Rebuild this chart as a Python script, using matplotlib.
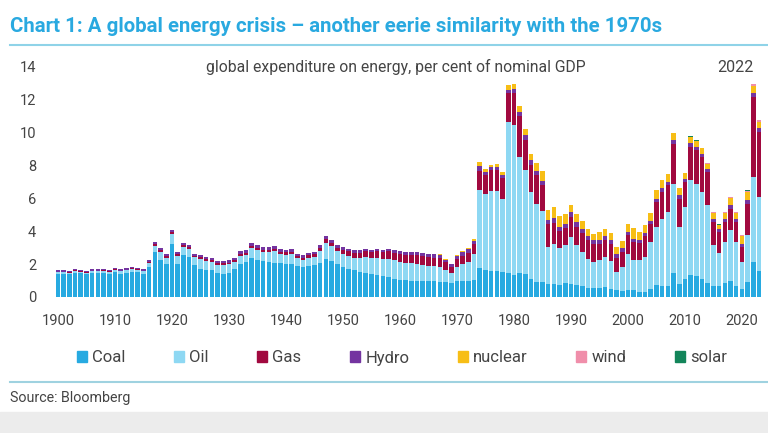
import numpy as np
import matplotlib.pyplot as plt
from matplotlib.patches import Patch, Rectangle
from matplotlib.lines import Line2D

plt.rcParams['font.family'] = ['Roboto', 'DejaVu Sans']

# years 1900..2023, values in per cent of nominal GDP
years = list(range(1900, 2024))

coal = [1.42, 1.42, 1.40, 1.48, 1.44, 1.40, 1.46, 1.46, 1.47, 1.42,
        1.50, 1.43, 1.47, 1.52, 1.50, 1.40, 1.83, 2.74, 2.27, 1.99,
        3.25, 2.03, 2.54, 2.44, 1.93, 1.73, 1.67, 1.62, 1.46, 1.42,
        1.46, 1.70, 2.03, 2.13, 2.39, 2.27, 2.19, 2.13, 2.10, 2.05,
        2.03, 2.03, 1.90, 1.85, 1.90, 1.95, 2.10, 2.30, 2.20, 2.00,
        1.85, 1.73, 1.62, 1.52, 1.47, 1.42, 1.32, 1.25, 1.20, 1.12,
        1.05, 1.02, 1.00, 0.98, 0.97, 0.95, 0.95, 0.93, 0.90, 0.88,
        0.95, 0.98, 1.00, 1.05, 1.78, 1.67, 1.60, 1.58, 1.55, 1.45,
        1.32, 1.48, 1.42, 1.12, 0.92, 0.92, 0.81, 0.81, 0.75, 0.87,
        0.81, 0.75, 0.67, 0.57, 0.57, 0.55, 0.60, 0.50, 0.40, 0.34,
        0.40, 0.40, 0.30, 0.32, 0.51, 0.75, 0.67, 0.67, 1.48, 0.81,
        1.08, 1.32, 1.26, 1.08, 0.87, 0.67, 0.67, 0.87, 0.95, 0.67,
        0.51, 0.91, 2.13, 1.56]

oil = [0.08, 0.08, 0.08, 0.11, 0.10, 0.08, 0.10, 0.10, 0.12, 0.12,
       0.14, 0.13, 0.15, 0.17, 0.17, 0.16, 0.23, 0.36, 0.47, 0.41,
       0.60, 0.48, 0.50, 0.51, 0.48, 0.58, 0.54, 0.53, 0.50, 0.54,
       0.53, 0.44, 0.48, 0.44, 0.61, 0.59, 0.56, 0.62, 0.68, 0.55,
       0.55, 0.57, 0.45, 0.40, 0.50, 0.49, 0.70, 1.01, 0.88, 0.77,
       0.79, 0.78, 0.77, 0.85, 0.97, 0.94, 1.06, 1.05, 1.13, 1.13,
       1.10, 1.06, 1.05, 1.05, 1.00, 0.96, 0.92, 0.92, 0.76, 0.60,
       0.87, 1.02, 1.14, 1.56, 4.72, 4.62, 4.84, 4.86, 4.43, 9.20,
       9.13, 7.05, 6.34, 5.28, 4.77, 4.30, 2.23, 2.43, 2.23, 2.32,
       2.84, 2.39, 2.07, 1.77, 1.56, 1.68, 1.84, 1.67, 1.12, 1.49,
       2.24, 1.83, 1.93, 2.12, 2.84, 3.51, 4.10, 4.51, 5.42, 3.45,
       4.40, 5.78, 5.64, 5.32, 4.71, 2.48, 2.01, 2.48, 3.11, 2.68,
       1.62, 2.84, 5.17, 4.53]

gas = [0.05] * 16 + [0.07, 0.10, 0.10, 0.10,
       0.10, 0.10, 0.10, 0.10, 0.10, 0.10, 0.10, 0.10, 0.10, 0.10,
       0.10, 0.10, 0.12, 0.12, 0.13, 0.13, 0.13, 0.13, 0.14, 0.14,
       0.14, 0.14, 0.14, 0.14, 0.15, 0.15, 0.18, 0.20, 0.20, 0.22,
       0.25, 0.28, 0.30, 0.32, 0.35, 0.37, 0.40, 0.42, 0.44, 0.45,
       0.47, 0.48, 0.50, 0.52, 0.52, 0.53, 0.53, 0.54, 0.45, 0.35,
       0.50, 0.52, 0.56, 0.60, 1.20, 1.11, 1.30, 1.30, 1.25, 1.75,
       1.95, 2.47, 1.78, 1.66, 1.71, 1.58, 1.38, 1.28, 1.01, 1.03,
       1.22, 1.12, 1.18, 1.11, 1.12, 1.02, 1.01, 1.08, 0.84, 0.91,
       1.12, 1.12, 1.05, 1.25, 1.10, 1.50, 1.65, 1.62, 2.43, 1.72,
       1.52, 2.03, 2.03, 2.12, 2.02, 1.42, 1.28, 1.22, 1.32, 1.22,
       0.92, 1.94, 4.87, 3.95]

hydro = [0.07] * 16 + [0.10, 0.13, 0.12, 0.12,
         0.15, 0.13, 0.14, 0.14, 0.13, 0.13, 0.13, 0.13, 0.13, 0.13,
         0.14, 0.14, 0.15, 0.15, 0.16, 0.16, 0.16, 0.16, 0.16, 0.16,
         0.16, 0.16, 0.15, 0.15, 0.15, 0.15, 0.17, 0.18, 0.17, 0.16,
         0.15, 0.15, 0.15, 0.15, 0.15, 0.15, 0.16, 0.16, 0.17, 0.18,
         0.18, 0.18, 0.19, 0.19, 0.19, 0.19, 0.19, 0.19, 0.17, 0.15,
         0.18, 0.20, 0.20, 0.22, 0.30, 0.20, 0.18, 0.18, 0.17, 0.22,
         0.25, 0.24, 0.30, 0.26, 0.27, 0.28, 0.29, 0.29, 0.27, 0.24,
         0.30, 0.30, 0.24, 0.24, 0.24, 0.24, 0.24, 0.24, 0.27, 0.24,
         0.20, 0.20, 0.20, 0.20, 0.20, 0.20, 0.20, 0.20, 0.20, 0.20,
         0.20, 0.22, 0.20, 0.20, 0.20, 0.20, 0.15, 0.17, 0.20, 0.18,
         0.20, 0.20, 0.25, 0.22]

nuclear = [0.0] * 65 + [0.01, 0.01, 0.02, 0.02, 0.02,
           0.04, 0.06, 0.08, 0.12, 0.20, 0.17, 0.14, 0.20, 0.20, 0.31,
           0.34, 0.39, 0.41, 0.40, 0.51, 0.62, 0.61, 0.66, 0.67, 0.61,
           0.45, 0.51, 0.47, 0.47, 0.37, 0.47, 0.47, 0.41, 0.41, 0.43,
           0.50, 0.65, 0.47, 0.51, 0.45, 0.54, 0.48, 0.50, 0.45, 0.43,
           0.33, 0.38, 0.36, 0.32, 0.31, 0.36, 0.27, 0.38, 0.46, 0.39,
           0.48, 0.52, 0.45, 0.42]

wind = [0.0] * 108 + [0.02, 0.02, 0.02, 0.03, 0.03, 0.03, 0.03, 0.03,
                      0.03, 0.04, 0.04, 0.04, 0.04, 0.05, 0.07, 0.07]

solar = [0.0] * 111 + [0.02, 0.02, 0.02, 0.02, 0.02, 0.02, 0.02, 0.02,
                       0.02, 0.02, 0.03, 0.05, 0.05]

series = [('Coal', coal, '#27aae1'),
          ('Oil', oil, '#8ed8f3'),
          ('Gas', gas, '#a1093f'),
          ('Hydro', hydro, '#7434a0'),
          ('nuclear', nuclear, '#f7be16'),
          ('wind', wind, '#f08eaa'),
          ('solar', solar, '#13855a')]

W, H = 768, 433
fig = plt.figure(figsize=(W / 100, H / 100), dpi=100)

ax = fig.add_axes([50 / W, 1 - 297 / H, 715 / W, 230 / H])
bottom = np.zeros(len(years))
for name, vals, col in series:
    vals = np.array(vals)
    ax.bar(years, vals, bottom=bottom, width=0.8, color=col, linewidth=0, label=name)
    bottom += vals

ax.set_xlim(1898.6, 2024.05)
ax.set_ylim(0, 14)
ax.set_yticks(range(0, 15, 2))
ax.set_xticks(range(1900, 2021, 10))
for s in ax.spines.values():
    s.set_visible(False)
ax.tick_params(length=0, labelsize=10.5, colors='#444444')
ax.tick_params(axis='y', pad=10)
ax.tick_params(axis='x', pad=12)

ax.text(0.483, 1.0, 'global expenditure on energy, per cent of nominal GDP',
        transform=ax.transAxes, ha='center', va='center', fontsize=11.3, color='#444444')
ax.text(0.958, 1.0, '2022', transform=ax.transAxes, ha='center', va='center',
        fontsize=11.5, color='#444444')

# title and rules
fig.text(10 / W, 1 - 26 / H,
         'Chart 1: A global energy crisis \u2013 another eerie similarity with the 1970s',
         fontsize=14.7, fontweight='bold', color='#29a9e0', va='center')
fig.add_artist(Line2D([10 / W, 1], [1 - 45 / H] * 2, color='#8fd3e8', lw=1.5))
fig.add_artist(Line2D([10 / W, 1], [1 - 382 / H] * 2, color='#9fd2e0', lw=1.5))
fig.text(10 / W, 1 - 398 / H, 'Source: Bloomberg', fontsize=10.3, color='#444444', va='center')
fig.add_artist(Rectangle((0, 0), 1, 1 - 412 / H, transform=fig.transFigure,
                         color='#ececec', zorder=-1))

handles = [Patch(color=c, label=n) for n, _, c in series]
fig.legend(handles=handles, loc='center', ncol=7, mode='expand', frameon=False,
           bbox_to_anchor=(62 / W, 1 - 368 / H, 680 / W, 20 / H),
           handlelength=0.6, handleheight=0.6, handletextpad=0.3,
           fontsize=12, labelcolor='#444444')

fig.savefig('out.png', dpi=100)
